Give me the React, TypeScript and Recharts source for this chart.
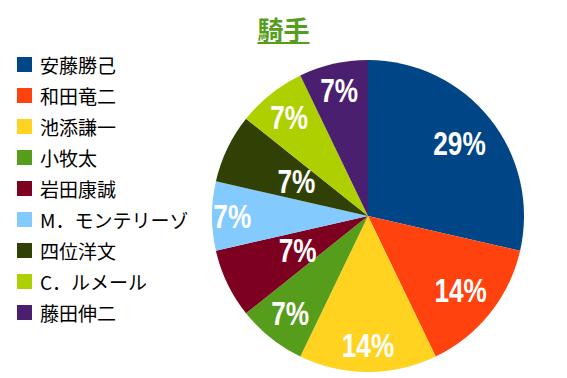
import { Pie, PieChart, Cell } from "recharts";

const jockeys = [
  "安藤勝己",
  "和田竜二",
  "池添謙一",
  "小牧太",
  "岩田康誠",
  "M．モンテリーゾ",
  "四位洋文",
  "C．ルメール",
  "藤田伸二",
];
const wins = [4, 2, 2, 1, 1, 1, 1, 1, 1];
const colors = ["#004586", "#ff420e", "#ffd320", "#579d1c", "#7e0021", "#83caff", "#314004", "#aecf00", "#4b1f6f"];

const data = jockeys.map((name, i) => ({ name, value: wins[i] }));

// Label distance from centre (fraction of the radius), mimics the office "best fit" placement
const labelFit = [0.75, 0.76, 0.83, 0.8, 0.5, 0.87, 0.51, 0.81, 0.83];
const RADIAN = Math.PI / 180;

function renderLabel(props: any) {
  const { cx, cy, midAngle, outerRadius, percent, index } = props;
  const r = outerRadius * labelFit[index];
  const x = cx + r * Math.cos(-midAngle * RADIAN);
  const y = cy + r * Math.sin(-midAngle * RADIAN);
  // squeeze the bold face horizontally to get the narrow look
  return (
    <text
      x={0}
      y={0}
      transform={`translate(${x},${y}) scale(0.77,1)`}
      fill="#fff"
      textAnchor="middle"
      dominantBaseline="central"
      style={{ fontFamily: "'Liberation Sans', Arial, sans-serif", fontWeight: 700, fontSize: 34 }}
    >
      {`${Math.round(percent * 100)}%`}
    </text>
  );
}

function LegendList() {
  return (
    <div
      style={{
        position: "absolute",
        left: 17,
        top: 49,
        fontFamily: "'Noto Sans CJK JP', sans-serif",
        fontSize: 19,
        color: "#000",
      }}
    >
      {data.map((d, i) => (
        <div key={d.name} style={{ display: "flex", alignItems: "center", height: 31 }}>
          <span style={{ width: 15, height: 15, background: colors[i], marginRight: 8, flex: "none" }} />
          <span style={{ lineHeight: "31px", whiteSpace: "nowrap" }}>{d.name}</span>
        </div>
      ))}
    </div>
  );
}

export default function App() {
  return (
    <div style={{ position: "fixed", left: 0, top: 0, width: 567, height: 378, background: "#fff" }}>
      <PieChart width={567} height={378} margin={{ top: 0, right: 0, bottom: 0, left: 0 }}>
        <Pie
          data={data}
          dataKey="value"
          nameKey="name"
          cx={368}
          cy={216}
          outerRadius={156}
          startAngle={90}
          endAngle={-270}
          stroke="none"
          label={renderLabel}
          labelLine={false}
          isAnimationActive={false}
        >
          {data.map((d, i) => (
            <Cell key={d.name} fill={colors[i]} />
          ))}
        </Pie>
      </PieChart>
      <div
        style={{
          position: "absolute",
          left: 0,
          top: 14,
          width: 567,
          textAlign: "center",
          fontFamily: "'Noto Sans CJK JP', sans-serif",
          fontWeight: 700,
          fontSize: 26,
          color: "#579d1c",
          lineHeight: "30px",
        }}
      >
        <span style={{ textDecoration: "underline" }}>騎手</span>
      </div>
      <LegendList />
    </div>
  );
}
